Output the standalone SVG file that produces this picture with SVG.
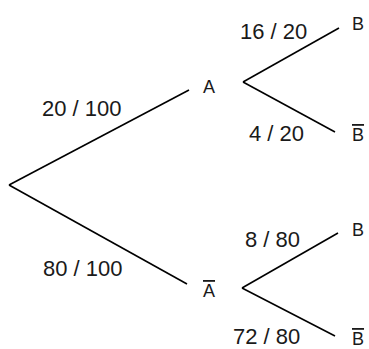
<svg xmlns="http://www.w3.org/2000/svg" width="369" height="349" viewBox="0 0 369 349">
<style>
.lbl{font-family:"Liberation Sans",Arial,sans-serif;font-size:22px;fill:#1a1a1a}
.nd{font-family:"Liberation Sans",Arial,sans-serif;font-size:18px;fill:#1a1a1a}
.ov{text-decoration:overline}
.edge{stroke:#000;stroke-width:1.6;fill:none}
</style>
<rect width="369" height="349" fill="#fff"/>
<g id="connectors">
<line class="edge" x1="9" y1="185" x2="189" y2="90"/>
<line class="edge" x1="9" y1="185" x2="187" y2="284"/>
<line class="edge" x1="243" y1="82" x2="339" y2="28"/>
<line class="edge" x1="243" y1="82" x2="335" y2="132"/>
<line class="edge" x1="242" y1="288" x2="338" y2="233"/>
<line class="edge" x1="242" y1="288" x2="335" y2="336"/>
</g>
<g id="edge-labels">
<text class="lbl" x="42" y="116">20 / 100</text>
<text class="lbl" x="43" y="276">80 / 100</text>
<text class="lbl" x="240" y="39">16 / 20</text>
<text class="lbl" x="249" y="141">4 / 20</text>
<text class="lbl" x="245" y="247">8 / 80</text>
<text class="lbl" x="233" y="344">72 / 80</text>
</g>
<g id="node-A"><text class="nd" x="203" y="93">A</text></g>
<g id="node-notA"><text class="nd ov" x="203" y="297">A</text></g>
<g id="node-A-B"><text class="nd" x="352" y="30">B</text></g>
<g id="node-A-notB"><text class="nd ov" x="352" y="141">B</text></g>
<g id="node-notA-B"><text class="nd" x="352" y="236">B</text></g>
<g id="node-notA-notB"><text class="nd ov" x="352" y="345">B</text></g>
</svg>
